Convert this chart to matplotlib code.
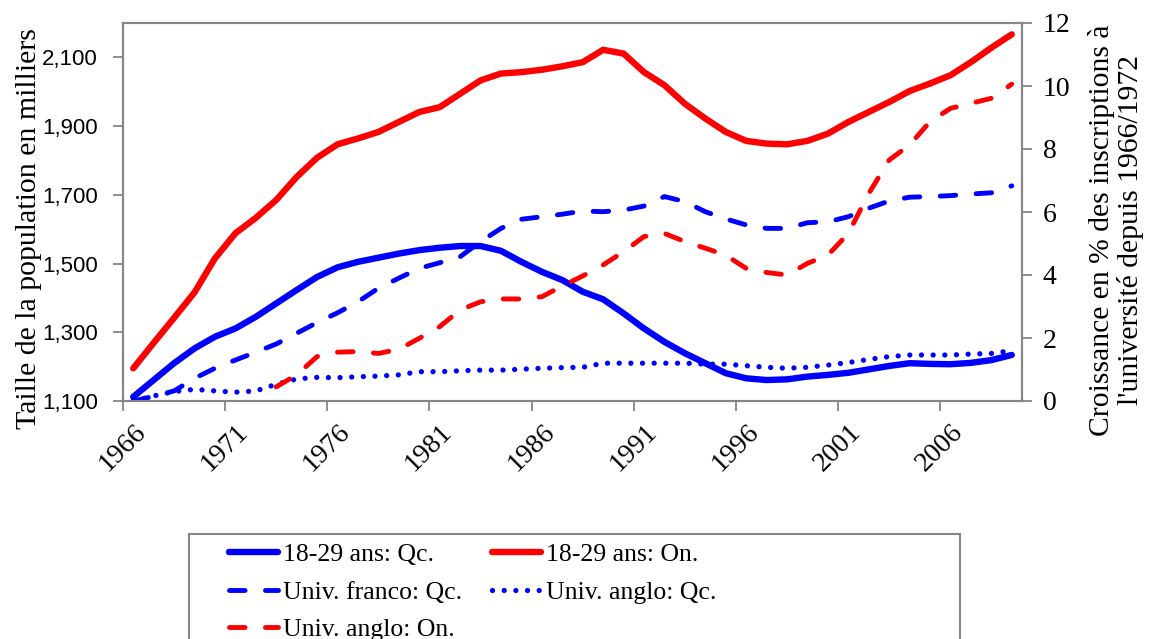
import numpy as np
import matplotlib
matplotlib.use("Agg")
import matplotlib.pyplot as plt
import matplotlib.transforms as mtransforms
from matplotlib.patches import Rectangle

# Années (axe des catégories)
annees = list(range(1966, 2010))

# Taille de la population 18-29 ans (milliers) - axe de gauche
pop_qc = [1112, 1161, 1210, 1253, 1287, 1311, 1345, 1384, 1423, 1461,
          1489, 1505, 1517, 1529, 1539, 1546, 1551, 1551, 1537, 1505,
          1476, 1452, 1418, 1396, 1355, 1311, 1272, 1239, 1210, 1181,
          1166, 1161, 1163, 1171, 1176, 1182, 1192, 1202, 1210, 1208,
          1207, 1211, 1219, 1234]
pop_on = [1195, 1269, 1342, 1416, 1515, 1588, 1633, 1685, 1752, 1808,
          1847, 1864, 1883, 1912, 1941, 1955, 1994, 2033, 2053, 2057,
          2064, 2074, 2086, 2122, 2111, 2057, 2019, 1965, 1922, 1883,
          1857, 1849, 1847, 1857, 1878, 1912, 1941, 1970, 2002, 2024,
          2048, 2086, 2128, 2167]

# Croissance des inscriptions (%) - axe de droite
franco_qc = [0.0, 0.15, 0.32, 0.72, 1.04, 1.30, 1.55, 1.81, 2.15, 2.49,
             2.80, 3.15, 3.58, 3.90, 4.21, 4.39, 4.58, 5.06, 5.48, 5.77,
             5.85, 5.93, 6.03, 6.01, 6.06, 6.19, 6.49, 6.33, 6.01, 5.78,
             5.59, 5.48, 5.48, 5.66, 5.69, 5.85, 6.12, 6.35, 6.47, 6.49,
             6.52, 6.57, 6.61, 6.83]
anglo_qc = [0.0, 0.16, 0.30, 0.37, 0.32, 0.28, 0.32, 0.53, 0.70, 0.75,
            0.74, 0.77, 0.79, 0.83, 0.93, 0.93, 0.96, 0.98, 0.98, 1.01,
            1.04, 1.06, 1.07, 1.20, 1.20, 1.20, 1.20, 1.20, 1.17, 1.17,
            1.12, 1.07, 1.04, 1.07, 1.14, 1.22, 1.32, 1.41, 1.46, 1.46,
            1.46, 1.49, 1.51, 1.60]
anglo_on = [np.nan] * 7 + [
            0.45, 0.83, 1.41, 1.55, 1.57, 1.51, 1.64, 1.99, 2.36, 2.89,
            3.15, 3.24, 3.24, 3.31, 3.65, 3.97, 4.32, 4.74, 5.22, 5.32,
            5.06, 4.85, 4.63, 4.21, 4.08, 4.00, 4.37, 4.63, 5.32, 6.59,
            7.65, 8.13, 8.87, 9.29, 9.45, 9.61, 10.06]

BLEU = '#0000FF'
ROUGE = '#FF0000'
GRIS = '#868686'
SERIF = ['Liberation Serif', 'DejaVu Serif']

fig = plt.figure(figsize=(11.54, 6.39), dpi=100)
W, H = 1154, 639
ax = fig.add_axes([123 / W, (H - 401) / H, (1022 - 123) / W, (401 - 23) / H])
ax2 = ax.twinx()

lw = 4.6
l1, = ax.plot(annees, pop_qc, color=BLEU, lw=lw, solid_capstyle='round',
              solid_joinstyle='round', label='18-29 ans: Qc.')
l2, = ax.plot(annees, pop_on, color=ROUGE, lw=lw, solid_capstyle='round',
              solid_joinstyle='round', label='18-29 ans: On.')

lwd = 3.5
l3, = ax2.plot(annees, franco_qc, color=BLEU, lw=lwd, dashes=(3.2, 4.2),
               dash_capstyle='round', label='Univ. franco: Qc.')
l4, = ax2.plot(annees, anglo_qc, color=BLEU, lw=3.8, dashes=(0.01, 2.2),
               dash_capstyle='round', label='Univ. anglo: Qc.')
l5, = ax2.plot(annees, anglo_on, color=ROUGE, lw=lwd, dashes=(3.2, 4.2),
               dash_capstyle='round', label='Univ. anglo: On.')

# Axes
ax.set_xlim(1965.5, 2009.5)
ax.set_ylim(1100, 2200)
ax2.set_ylim(0, 12)

ax.set_yticks([1100, 1300, 1500, 1700, 1900, 2100])
ax.set_yticklabels(['1,100', '1,300', '1,500', '1,700', '1,900', '2,100'],
                   family=['Liberation Sans', 'DejaVu Sans'], fontsize=16)
ax2.set_yticks(range(0, 13, 2))
ax2.set_yticklabels([str(v) for v in range(0, 13, 2)], family=SERIF, fontsize=20)

# graduations entre catégories, étiquettes au centre des catégories
ax.set_xticks(np.arange(1965.5, 2009, 5))
ax.set_xticklabels([])
ax.set_xticks(range(1966, 2010, 5), minor=True)
ax.set_xticklabels([str(a) for a in range(1966, 2010, 5)], minor=True,
                   rotation=45, ha='right', va='top', rotation_mode='anchor',
                   family=SERIF, fontsize=20)
decalage = mtransforms.ScaledTranslation(-6 / 100, 0, fig.dpi_scale_trans)
for lab in ax.get_xticklabels(minor=True):
    lab.set_transform(lab.get_transform() + decalage)
ax.tick_params(axis='x', which='major', direction='out', length=7, color=GRIS, width=1.3)
ax.tick_params(axis='x', which='minor', length=0, pad=13)
ax.tick_params(axis='y', direction='out', length=7, color=GRIS, width=1.3, pad=11)
ax2.tick_params(axis='y', direction='out', length=7, color=GRIS, width=1.3, pad=8)

for a in (ax, ax2):
    for s in a.spines.values():
        s.set_color(GRIS)
        s.set_linewidth(1.5)

fig.text(29 / W, (H - 229) / H, 'Taille de la population en milliers',
         rotation=90, ha='center', va='center', family=SERIF, fontsize=21.5)
fig.text(1116 / W, (H - 230) / H,
         "Croissance en % des inscriptions à\nl'université depuis 1966/1972",
         rotation=90, ha='center', va='center', family=SERIF, fontsize=21.3,
         linespacing=1.12)

# cadre de la légende (coupé par le bas de la figure)
fig.patches.append(Rectangle((189 / W, -0.05), (960 - 189) / W, (H - 534) / H + 0.05,
                             transform=fig.transFigure, fill=False,
                             edgecolor=GRIS, linewidth=1.5))

prop = {'family': SERIF, 'size': 18.5}
col1 = [l1, l3, l5]
col2 = [l2, l4]
for handles, x0 in ((col1, 229), (col2, 492)):
    leg = fig.legend(handles, [h.get_label() for h in handles],
                     loc='upper left', bbox_to_anchor=(x0 / W, (H - 543) / H),
                     ncol=1, prop=prop, frameon=False, handlelength=1.9,
                     handletextpad=0.2, labelspacing=0.57,
                     borderpad=0, borderaxespad=0)

fig.savefig('out.png', dpi=100)
